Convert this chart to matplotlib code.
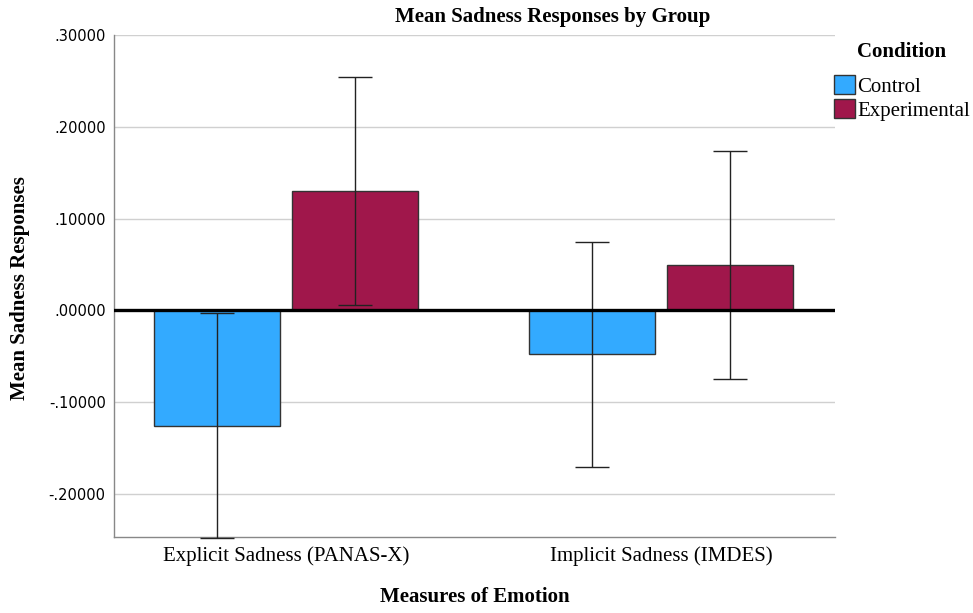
import numpy as np
import matplotlib
matplotlib.use("Agg")
import matplotlib.pyplot as plt
from matplotlib.ticker import FuncFormatter

# data
measures = ["Explicit Sadness (PANAS-X)", "Implicit Sadness (IMDES)"]
conditions = ["Control", "Experimental"]
control_mean = [-0.1255, -0.048]
control_lo = [-0.2475, -0.171]
control_hi = [-0.003, 0.075]
exp_mean = [0.130, 0.050]
exp_lo = [0.006, -0.075]
exp_hi = [0.254, 0.174]
colors = ["#33AAFF", "#A0174B"]

serif = ["Liberation Serif", "DejaVu Serif"]

fig = plt.figure(figsize=(9.73, 6.13), dpi=100)
ax = fig.add_axes([114 / 973, 1 - 537 / 613, 721 / 973, 502 / 613])

x = np.arange(len(measures))
w = 0.336
off = 0.184
means = [control_mean, exp_mean]
los = [control_lo, exp_lo]
his = [control_hi, exp_hi]
for i, (m, lo, hi) in enumerate(zip(means, los, his)):
    xs = x + (-off if i == 0 else off)
    m = np.array(m)
    yerr = [m - np.array(lo), np.array(hi) - m]
    ax.bar(xs, m, width=w, color=colors[i], edgecolor="#333333", linewidth=1.0,
           label=conditions[i], zorder=2)
    ax.errorbar(xs, m, yerr=yerr, fmt="none", ecolor="#222222", elinewidth=1.0,
                capsize=12, capthick=1.0, zorder=3, clip_on=False)

ax.axhline(0, color="black", lw=2.4, zorder=4)

ax.set_xlim(-0.46, 1.465)
ax.set_ylim(-0.2468, 0.30)
ax.set_yticks([-0.2, -0.1, 0.0, 0.1, 0.2, 0.3])

def fmt(v, pos):
    s = f"{v:.5f}"
    s = s.replace("0.", ".", 1)
    if s == "-.00000":
        s = ".00000"
    return s

ax.yaxis.set_major_formatter(FuncFormatter(fmt))
ax.grid(axis="y", color="#d0d0d0", lw=1.0, zorder=0)
ax.set_axisbelow(True)
for s in ["top", "right"]:
    ax.spines[s].set_visible(False)
for s in ["left", "bottom"]:
    ax.spines[s].set_color("#888888")
    ax.spines[s].set_linewidth(1.0)
ax.tick_params(axis="both", length=0)
ax.tick_params(axis="y", labelsize=10.5, pad=6)
ax.set_xticks(x)
ax.set_xticklabels(measures, family=serif, fontsize=15)
ax.tick_params(axis="x", pad=7)

fig.text(553 / 973, 1 - 17 / 613, "Mean Sadness Responses by Group", family=serif,
         fontsize=15, fontweight="bold", ha="center", va="center")
fig.text(475 / 973, 1 - 597 / 613, "Measures of Emotion", family=serif,
         fontsize=15, fontweight="bold", ha="center", va="center")
fig.text(20 / 973, 1 - 288 / 613, "Mean Sadness Responses", family=serif,
         fontsize=15, fontweight="bold", ha="center", va="center", rotation=90)

# legend title drawn separately so the gap above the entries matches
fig.text(857 / 973, 1 - 52 / 613, "Condition", family=serif, fontsize=15,
         fontweight="bold", ha="left", va="center")
ax.legend(loc="upper left", bbox_to_anchor=(834 / 973, 1 - 75 / 613),
          bbox_transform=fig.transFigure, frameon=False,
          prop={"family": serif, "size": 15},
          handlelength=1.0, handleheight=1.05, handletextpad=0.1,
          labelspacing=0.1, borderpad=0.0, borderaxespad=0.0)

fig.savefig("out.png", dpi=100)
